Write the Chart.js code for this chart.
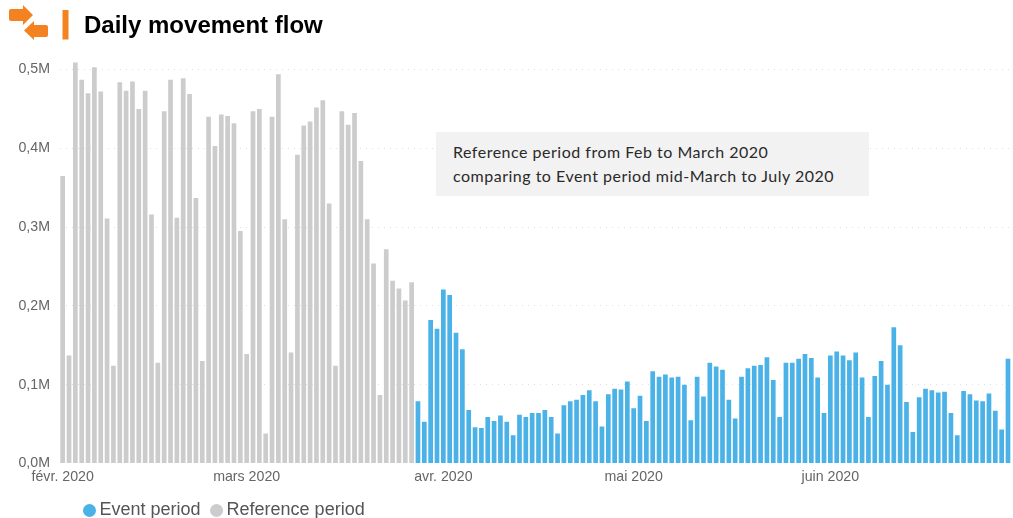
<!DOCTYPE html>
<html lang="fr">
<head>
<meta charset="utf-8">
<title>Daily movement flow</title>
<script src="https://cdn.jsdelivr.net/npm/chart.js@4"></script>
<style>
html,body{margin:0;padding:0;background:#fff;width:1013px;height:518px;overflow:hidden}
#wrap{position:relative;width:1013px;height:518px}
#chart{position:absolute;left:0;top:0}
#icon{position:absolute;left:0;top:0}
#note{position:absolute;left:436px;top:132px;width:433px;height:64px;background:#f2f2f2;color:#2a2a2a;
font-family:"Lato",sans-serif;font-size:16px;letter-spacing:.5px;line-height:24px;white-space:nowrap;box-sizing:border-box;padding:8px 0 0 17px}
</style>
</head>
<body>
<div id="wrap">
<canvas id="chart" width="1013" height="518"></canvas>
<svg id="icon" width="80" height="45" viewBox="0 0 80 45">
<path d="M11 9H23V5L33 15 23 25V21H11Q9 21 9 19V11Q9 9 11 9Z" fill="#f58220"/>
<path d="M46 25H34V21L24 30.5 34 40V37H46Q48 37 48 35V27Q48 25 46 25Z" fill="#f58220"/>
<rect x="62.5" y="10" width="6" height="29.5" fill="#f58220"/>
</svg>
<div id="note">Reference period from Feb to March 2020<br>comparing to Event period mid-March to July 2020</div>
</div>
<script>
const titleText = 'Daily movement flow';
const seriesNames = ['Event period', 'Reference period'];
const monthLabels = ['févr. 2020', 'mars 2020', 'avr. 2020', 'mai 2020', 'juin 2020'];
const monthLengths = [29, 31, 30, 31, 29];
const yTicks = ['0,0M', '0,1M', '0,2M', '0,3M', '0,4M', '0,5M'];

// Daily values in millions
const referenceValues = [
  0.365, 0.137, 0.509, 0.487, 0.470, 0.503, 0.472, 0.311, 0.124, 0.484,
  0.473, 0.485, 0.450, 0.473, 0.316, 0.128, 0.447, 0.487, 0.312, 0.489,
  0.469, 0.337, 0.130, 0.440, 0.403, 0.443, 0.441, 0.432, 0.295, 0.139,
  0.447, 0.450, 0.038, 0.440, 0.494, 0.310, 0.141, 0.392, 0.429, 0.434,
  0.452, 0.461, 0.330, 0.124, 0.447, 0.430, 0.445, 0.384, 0.310, 0.254,
  0.087, 0.272, 0.232, 0.222, 0.207, 0.230
];
const eventValues = [
  0.079, 0.053, 0.182, 0.171, 0.221, 0.214, 0.166, 0.145, 0.068, 0.046,
  0.045, 0.059, 0.054, 0.061, 0.053, 0.036, 0.062, 0.059, 0.064, 0.064,
  0.068, 0.059, 0.038, 0.074, 0.079, 0.081, 0.087, 0.093, 0.079, 0.047,
  0.088, 0.095, 0.094, 0.104, 0.070, 0.086, 0.054, 0.117, 0.110, 0.113,
  0.109, 0.110, 0.100, 0.055, 0.110, 0.085, 0.128, 0.123, 0.119, 0.081,
  0.057, 0.110, 0.121, 0.124, 0.125, 0.135, 0.106, 0.059, 0.128, 0.128,
  0.133, 0.139, 0.134, 0.109, 0.064, 0.137, 0.142, 0.137, 0.131, 0.141,
  0.109, 0.059, 0.111, 0.130, 0.100, 0.173, 0.150, 0.078, 0.040, 0.084,
  0.095, 0.093, 0.090, 0.091, 0.064, 0.036, 0.092, 0.088, 0.080, 0.079,
  0.089, 0.067, 0.043, 0.133
];

const categories = [];
monthLabels.forEach((m, i) => {
  for (let d = 1; d <= monthLengths[i]; d++) categories.push(d === 1 ? m : m + ' j' + d);
});
const gap = arr => arr.map(() => null);

const placeBoxes = {
  id: 'placeBoxes',
  afterLayout(chart) {
    chart.titleBlock.left = 84;
    chart.legend.left = 73.5;
  }
};

new Chart(document.getElementById('chart'), {
  type: 'bar',
  plugins: [placeBoxes],
  data: {
    labels: categories,
    datasets: [
      { label: seriesNames[0], data: gap(referenceValues).concat(eventValues), backgroundColor: '#4bb2e8' },
      { label: seriesNames[1], data: referenceValues.concat(gap(eventValues)), backgroundColor: '#cccccc' }
    ]
  },
  options: {
    responsive: false,
    animation: false,
    devicePixelRatio: 1,
    barPercentage: 0.74,
    categoryPercentage: 1,
    layout: { padding: { top: 12, right: 0, bottom: -11.5, left: 0 } },
    scales: {
      x: {
        stacked: true,
        grid: { display: false, tickLength: 0 },
        border: { display: false },
        afterFit(s) { s.height = 23; },
        ticks: {
          autoSkip: false, maxRotation: 0, minRotation: 0, padding: 5,
          color: '#666666',
          font: { family: 'Liberation Sans', size: 14.2 },
          callback(v) { const l = categories[v]; return monthLabels.includes(l) ? l : ''; }
        }
      },
      y: {
        stacked: true,
        min: 0, max: 0.52,
        afterFit(s) { s.width = 59.5; },
        grid: {
          color: c => c.tick.value === 0 ? 'rgba(0,0,0,0)' : '#e0e0e0',
          drawTicks: false
        },
        border: { display: false, dash: [1, 5] },
        ticks: {
          stepSize: 0.1, includeBounds: false, padding: 9.5,
          color: '#666666',
          font: { family: 'Liberation Sans', size: 14.2 },
          callback(v) { return yTicks[Math.round(v * 10)]; }
        }
      }
    },
    plugins: {
      tooltip: { enabled: false },
      title: {
        display: true, text: titleText, align: 'start',
        color: '#000000',
        font: { family: 'Liberation Sans', size: 24, weight: 'bold' },
        padding: { top: 0, bottom: 13 }
      },
      legend: {
        position: 'bottom', align: 'start',
        labels: {
          usePointStyle: true, pointStyle: 'circle',
          boxWidth: 2, boxHeight: 9.2, padding: 15,
          color: '#555555',
          font: { family: 'Liberation Sans', size: 18 }
        }
      }
    }
  }
});
</script>
</body>
</html>
